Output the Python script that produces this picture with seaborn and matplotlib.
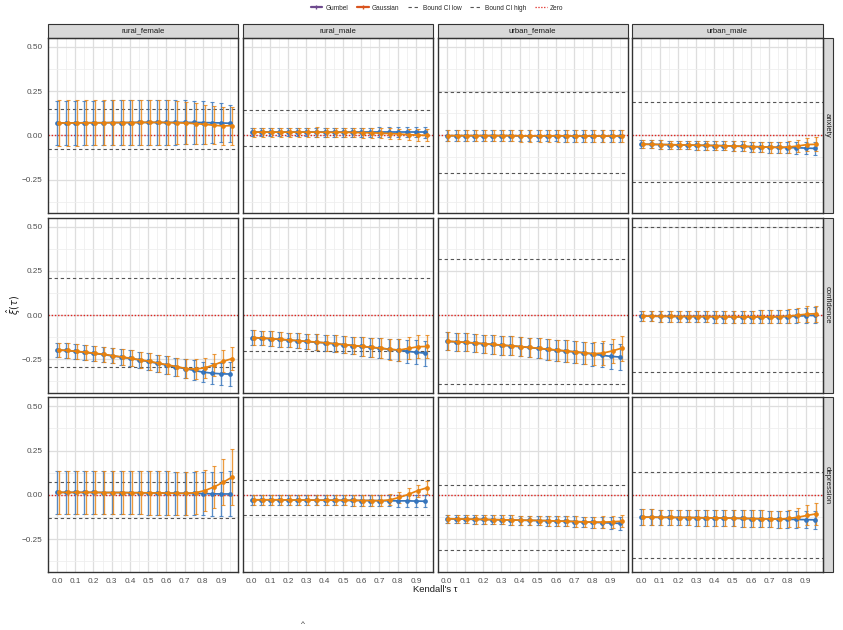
import numpy as np
import pandas as pd
import matplotlib
matplotlib.use('Agg')
import matplotlib.pyplot as plt
from matplotlib.lines import Line2D
from matplotlib.patches import Rectangle
from matplotlib.ticker import MultipleLocator
import seaborn as sns

# ---- data ----
outcomes = ['anxiety', 'confidence', 'depression']
groups = ['rural_female', 'rural_male', 'urban_female', 'urban_male']
taus = [0.00, 0.05, 0.10, 0.15, 0.20, 0.25, 0.30, 0.35, 0.40, 0.45,
        0.50, 0.55, 0.60, 0.65, 0.70, 0.75, 0.80, 0.85, 0.90, 0.95]

gumbel_est = {
    ('anxiety', 'rural_female'): [0.070, 0.070, 0.070, 0.071, 0.071, 0.071, 0.072, 0.072, 0.072, 0.073, 0.073, 0.073, 0.073, 0.073, 0.073, 0.073, 0.072, 0.071, 0.070, 0.068],
    ('anxiety', 'rural_male'): [0.018, 0.018, 0.018, 0.018, 0.018, 0.018, 0.018, 0.018, 0.018, 0.018, 0.018, 0.018, 0.018, 0.018, 0.018, 0.018, 0.018, 0.018, 0.018, 0.018],
    ('anxiety', 'urban_female'): [-0.002, -0.002, -0.002, -0.002, -0.002, -0.002, -0.002, -0.002, -0.003, -0.003, -0.003, -0.003, -0.003, -0.003, -0.004, -0.004, -0.004, -0.004, -0.005, -0.005],
    ('anxiety', 'urban_male'): [-0.050, -0.051, -0.052, -0.053, -0.054, -0.055, -0.056, -0.057, -0.058, -0.059, -0.061, -0.062, -0.064, -0.065, -0.067, -0.068, -0.069, -0.070, -0.072, -0.074],
    ('confidence', 'rural_female'): [-0.197, -0.200, -0.205, -0.210, -0.216, -0.222, -0.230, -0.237, -0.245, -0.253, -0.262, -0.272, -0.282, -0.292, -0.302, -0.312, -0.322, -0.328, -0.332, -0.333],
    ('confidence', 'rural_male'): [-0.127, -0.130, -0.133, -0.137, -0.141, -0.145, -0.149, -0.153, -0.157, -0.162, -0.167, -0.172, -0.177, -0.182, -0.187, -0.192, -0.198, -0.204, -0.210, -0.215],
    ('confidence', 'urban_female'): [-0.148, -0.151, -0.154, -0.158, -0.162, -0.166, -0.170, -0.174, -0.178, -0.183, -0.188, -0.193, -0.198, -0.203, -0.208, -0.213, -0.220, -0.227, -0.233, -0.237],
    ('confidence', 'urban_male'): [-0.006, -0.006, -0.007, -0.007, -0.008, -0.008, -0.008, -0.009, -0.009, -0.009, -0.010, -0.010, -0.010, -0.010, -0.010, -0.009, -0.008, -0.006, -0.003, -0.001],
    ('depression', 'rural_female'): [0.014, 0.014, 0.014, 0.014, 0.014, 0.013, 0.013, 0.013, 0.012, 0.012, 0.011, 0.011, 0.010, 0.009, 0.009, 0.008, 0.007, 0.006, 0.005, 0.005],
    ('depression', 'rural_male'): [-0.028, -0.028, -0.028, -0.028, -0.029, -0.029, -0.029, -0.030, -0.030, -0.030, -0.031, -0.031, -0.032, -0.032, -0.033, -0.033, -0.034, -0.034, -0.035, -0.036],
    ('depression', 'urban_female'): [-0.135, -0.136, -0.137, -0.138, -0.139, -0.140, -0.141, -0.142, -0.143, -0.144, -0.145, -0.146, -0.148, -0.149, -0.151, -0.153, -0.155, -0.157, -0.159, -0.161],
    ('depression', 'urban_male'): [-0.126, -0.126, -0.127, -0.127, -0.128, -0.128, -0.129, -0.130, -0.130, -0.131, -0.132, -0.133, -0.134, -0.135, -0.136, -0.137, -0.138, -0.139, -0.140, -0.141],
}

gaussian_est = {
    ('anxiety', 'rural_female'): [0.070, 0.070, 0.070, 0.071, 0.071, 0.071, 0.072, 0.072, 0.072, 0.073, 0.073, 0.073, 0.072, 0.071, 0.069, 0.066, 0.062, 0.057, 0.053, 0.055],
    ('anxiety', 'rural_male'): [0.018, 0.018, 0.018, 0.018, 0.018, 0.018, 0.018, 0.018, 0.017, 0.017, 0.017, 0.016, 0.015, 0.014, 0.012, 0.010, 0.007, 0.004, 0.001, 0.000],
    ('anxiety', 'urban_female'): [-0.002, -0.002, -0.002, -0.002, -0.002, -0.002, -0.002, -0.002, -0.003, -0.003, -0.003, -0.003, -0.003, -0.003, -0.004, -0.004, -0.004, -0.004, -0.004, -0.004],
    ('anxiety', 'urban_male'): [-0.050, -0.051, -0.052, -0.053, -0.054, -0.055, -0.056, -0.057, -0.058, -0.059, -0.061, -0.062, -0.064, -0.065, -0.067, -0.068, -0.066, -0.060, -0.052, -0.051],
    ('confidence', 'rural_female'): [-0.197, -0.200, -0.205, -0.210, -0.216, -0.222, -0.230, -0.237, -0.245, -0.253, -0.262, -0.272, -0.282, -0.292, -0.302, -0.305, -0.298, -0.282, -0.262, -0.246],
    ('confidence', 'rural_male'): [-0.127, -0.130, -0.133, -0.137, -0.141, -0.145, -0.149, -0.153, -0.157, -0.162, -0.167, -0.172, -0.177, -0.182, -0.187, -0.194, -0.197, -0.188, -0.179, -0.177],
    ('confidence', 'urban_female'): [-0.148, -0.151, -0.154, -0.158, -0.162, -0.166, -0.170, -0.174, -0.178, -0.183, -0.188, -0.193, -0.198, -0.203, -0.208, -0.214, -0.218, -0.214, -0.202, -0.187],
    ('confidence', 'urban_male'): [-0.006, -0.006, -0.007, -0.007, -0.008, -0.008, -0.008, -0.009, -0.009, -0.009, -0.010, -0.010, -0.010, -0.010, -0.010, -0.009, -0.006, 0.000, 0.006, 0.008],
    ('depression', 'rural_female'): [0.014, 0.014, 0.014, 0.014, 0.014, 0.013, 0.013, 0.013, 0.012, 0.012, 0.011, 0.011, 0.010, 0.009, 0.009, 0.012, 0.024, 0.044, 0.070, 0.100],
    ('depression', 'rural_male'): [-0.028, -0.028, -0.028, -0.028, -0.029, -0.029, -0.029, -0.030, -0.030, -0.030, -0.031, -0.031, -0.032, -0.032, -0.033, -0.028, -0.014, 0.003, 0.024, 0.040],
    ('depression', 'urban_female'): [-0.135, -0.136, -0.137, -0.138, -0.139, -0.140, -0.141, -0.142, -0.143, -0.144, -0.145, -0.146, -0.148, -0.149, -0.151, -0.153, -0.154, -0.154, -0.152, -0.149],
    ('depression', 'urban_male'): [-0.126, -0.126, -0.127, -0.127, -0.128, -0.128, -0.129, -0.130, -0.130, -0.131, -0.132, -0.133, -0.134, -0.135, -0.136, -0.137, -0.133, -0.126, -0.116, -0.107],
}

# half-widths of the CI error bars
gumbel_hw = {
    ('anxiety', 'rural_female'): [0.125, 0.125, 0.125, 0.125, 0.125, 0.125, 0.125, 0.125, 0.125, 0.126, 0.126, 0.126, 0.126, 0.125, 0.124, 0.122, 0.120, 0.116, 0.110, 0.105],
    ('anxiety', 'rural_male'): [0.024, 0.024, 0.024, 0.024, 0.024, 0.024, 0.024, 0.025, 0.025, 0.025, 0.025, 0.026, 0.026, 0.026, 0.027, 0.027, 0.028, 0.029, 0.030, 0.031],
    ('anxiety', 'urban_female'): [0.030, 0.030, 0.030, 0.030, 0.030, 0.030, 0.030, 0.030, 0.031, 0.031, 0.031, 0.031, 0.031, 0.032, 0.032, 0.032, 0.033, 0.033, 0.034, 0.035],
    ('anxiety', 'urban_male'): [0.022, 0.022, 0.023, 0.023, 0.024, 0.024, 0.025, 0.025, 0.026, 0.026, 0.027, 0.028, 0.029, 0.030, 0.031, 0.032, 0.033, 0.034, 0.036, 0.038],
    ('confidence', 'rural_female'): [0.040, 0.040, 0.041, 0.041, 0.042, 0.042, 0.043, 0.044, 0.045, 0.046, 0.047, 0.048, 0.050, 0.052, 0.054, 0.056, 0.058, 0.060, 0.063, 0.066],
    ('confidence', 'rural_male'): [0.040, 0.040, 0.041, 0.041, 0.042, 0.043, 0.044, 0.045, 0.046, 0.047, 0.048, 0.050, 0.052, 0.054, 0.056, 0.058, 0.061, 0.064, 0.067, 0.070],
    ('confidence', 'urban_female'): [0.050, 0.050, 0.051, 0.051, 0.052, 0.052, 0.053, 0.054, 0.055, 0.056, 0.057, 0.058, 0.059, 0.060, 0.062, 0.063, 0.065, 0.067, 0.069, 0.071],
    ('confidence', 'urban_male'): [0.030, 0.030, 0.030, 0.031, 0.031, 0.031, 0.032, 0.032, 0.033, 0.033, 0.034, 0.034, 0.035, 0.036, 0.037, 0.038, 0.039, 0.041, 0.043, 0.045],
    ('depression', 'rural_female'): [0.122, 0.122, 0.122, 0.122, 0.122, 0.122, 0.122, 0.122, 0.122, 0.122, 0.122, 0.122, 0.122, 0.122, 0.122, 0.122, 0.122, 0.123, 0.125, 0.127],
    ('depression', 'rural_male'): [0.028, 0.028, 0.028, 0.028, 0.028, 0.028, 0.028, 0.029, 0.029, 0.029, 0.029, 0.030, 0.030, 0.030, 0.031, 0.031, 0.032, 0.033, 0.034, 0.035],
    ('depression', 'urban_female'): [0.024, 0.024, 0.024, 0.025, 0.025, 0.025, 0.026, 0.026, 0.026, 0.027, 0.027, 0.028, 0.028, 0.029, 0.030, 0.030, 0.031, 0.032, 0.033, 0.035],
    ('depression', 'urban_male'): [0.044, 0.044, 0.044, 0.044, 0.044, 0.045, 0.045, 0.045, 0.045, 0.045, 0.046, 0.046, 0.046, 0.047, 0.047, 0.048, 0.048, 0.049, 0.050, 0.052],
}

gaussian_hw = {
    ('anxiety', 'rural_female'): [0.128, 0.128, 0.128, 0.128, 0.128, 0.128, 0.128, 0.128, 0.128, 0.128, 0.128, 0.127, 0.125, 0.122, 0.118, 0.115, 0.110, 0.106, 0.105, 0.107],
    ('anxiety', 'rural_male'): [0.026, 0.026, 0.026, 0.026, 0.026, 0.026, 0.026, 0.027, 0.027, 0.027, 0.027, 0.028, 0.028, 0.028, 0.029, 0.029, 0.030, 0.031, 0.032, 0.034],
    ('anxiety', 'urban_female'): [0.031, 0.031, 0.031, 0.031, 0.031, 0.031, 0.031, 0.031, 0.032, 0.032, 0.032, 0.032, 0.032, 0.033, 0.033, 0.033, 0.034, 0.034, 0.035, 0.036],
    ('anxiety', 'urban_male'): [0.022, 0.022, 0.023, 0.023, 0.024, 0.024, 0.025, 0.025, 0.026, 0.026, 0.027, 0.028, 0.029, 0.030, 0.031, 0.032, 0.034, 0.036, 0.038, 0.040],
    ('confidence', 'rural_female'): [0.040, 0.040, 0.041, 0.041, 0.042, 0.042, 0.043, 0.044, 0.045, 0.046, 0.047, 0.048, 0.050, 0.052, 0.054, 0.056, 0.058, 0.060, 0.062, 0.065],
    ('confidence', 'rural_male'): [0.040, 0.040, 0.041, 0.041, 0.042, 0.043, 0.044, 0.045, 0.046, 0.047, 0.048, 0.050, 0.052, 0.054, 0.056, 0.058, 0.060, 0.062, 0.064, 0.066],
    ('confidence', 'urban_female'): [0.050, 0.050, 0.051, 0.051, 0.052, 0.052, 0.053, 0.054, 0.055, 0.056, 0.057, 0.058, 0.059, 0.060, 0.062, 0.063, 0.064, 0.066, 0.068, 0.070],
    ('confidence', 'urban_male'): [0.030, 0.030, 0.030, 0.031, 0.031, 0.031, 0.032, 0.032, 0.033, 0.033, 0.034, 0.034, 0.035, 0.036, 0.037, 0.038, 0.039, 0.041, 0.043, 0.046],
    ('depression', 'rural_female'): [0.122, 0.122, 0.122, 0.122, 0.122, 0.122, 0.122, 0.122, 0.122, 0.122, 0.122, 0.122, 0.122, 0.122, 0.122, 0.120, 0.118, 0.120, 0.130, 0.160],
    ('depression', 'rural_male'): [0.028, 0.028, 0.028, 0.028, 0.028, 0.028, 0.028, 0.029, 0.029, 0.029, 0.029, 0.030, 0.030, 0.030, 0.031, 0.031, 0.032, 0.033, 0.034, 0.036],
    ('depression', 'urban_female'): [0.024, 0.024, 0.024, 0.025, 0.025, 0.025, 0.026, 0.026, 0.026, 0.027, 0.027, 0.028, 0.028, 0.029, 0.030, 0.030, 0.031, 0.032, 0.033, 0.035],
    ('depression', 'urban_male'): [0.044, 0.044, 0.044, 0.044, 0.044, 0.045, 0.045, 0.045, 0.045, 0.045, 0.046, 0.046, 0.046, 0.047, 0.047, 0.048, 0.050, 0.053, 0.057, 0.062],
}

bound_high = {
    ('anxiety', 'rural_female'): 0.150, ('anxiety', 'rural_male'): 0.144,
    ('anxiety', 'urban_female'): 0.244, ('anxiety', 'urban_male'): 0.188,
    ('confidence', 'rural_female'): 0.207, ('confidence', 'rural_male'): 0.210,
    ('confidence', 'urban_female'): 0.316, ('confidence', 'urban_male'): 0.497,
    ('depression', 'rural_female'): 0.075, ('depression', 'rural_male'): 0.086,
    ('depression', 'urban_female'): 0.056, ('depression', 'urban_male'): 0.130,
}
bound_low = {
    ('anxiety', 'rural_female'): -0.080, ('anxiety', 'rural_male'): -0.059,
    ('anxiety', 'urban_female'): -0.212, ('anxiety', 'urban_male'): -0.265,
    ('confidence', 'rural_female'): -0.294, ('confidence', 'rural_male'): -0.205,
    ('confidence', 'urban_female'): -0.390, ('confidence', 'urban_male'): -0.322,
    ('depression', 'rural_female'): -0.128, ('depression', 'rural_male'): -0.111,
    ('depression', 'urban_female'): -0.310, ('depression', 'urban_male'): -0.354,
}

colors = {'Gumbel': '#3574BC', 'Gaussian': '#E8820F'}
dodge = {'Gumbel': 0.0, 'Gaussian': 0.01}

# long table for the facet grid
records = []
for o in outcomes:
    for grp in groups:
        for method, est, hw in [('Gumbel', gumbel_est, gumbel_hw), ('Gaussian', gaussian_est, gaussian_hw)]:
            for i, t in enumerate(taus):
                records.append(dict(outcome=o, group=grp, method=method, tau=t,
                                    xpos=t + dodge[method], est=est[(o, grp)][i],
                                    hw=hw[(o, grp)][i], low=bound_low[(o, grp)],
                                    high=bound_high[(o, grp)]))
df = pd.DataFrame(records)

sns.set_style('white')
plt.rcParams['font.family'] = ['Liberation Sans', 'DejaVu Sans']

dash_style = (0, (3, 2.5))
dot_style = (0, (1, 1.3))
zero_color = '#E0241F'


def draw_panel(data, **kws):
    ax = plt.gca()
    ax.axhline(data['high'].iloc[0], color='#555555', lw=0.8, ls=dash_style, zorder=1)
    ax.axhline(data['low'].iloc[0], color='#555555', lw=0.8, ls=dash_style, zorder=1)
    ax.axhline(0, color=zero_color, lw=1.0, ls=dot_style, zorder=1)
    for m in ['Gumbel', 'Gaussian']:
        sub = data[data['method'] == m]
        ax.errorbar(sub['xpos'], sub['est'], yerr=sub['hw'], fmt='none',
                    ecolor=colors[m], elinewidth=0.95, capsize=1.3, capthick=0.8,
                    alpha=0.8, zorder=2)
    sns.lineplot(data=data, x='xpos', y='est', hue='method',
                 hue_order=['Gumbel', 'Gaussian'], palette=colors, estimator=None,
                 marker='o', markersize=3.4, markeredgewidth=0, linewidth=1.25,
                 legend=False, ax=ax, zorder=3)


g = sns.FacetGrid(df, row='outcome', col='group', row_order=outcomes, col_order=groups,
                  sharex=True, sharey=True, despine=False, height=2, aspect=1.1)
g.map_dataframe(draw_panel)
g.set_titles('')

fig = g.figure
fig.set_size_inches(8.43, 6.3)
fig.subplots_adjust(left=48 / 843, right=822.5 / 843, top=1 - 37.8 / 630,
                    bottom=1 - 572.3 / 630, wspace=4.8 / 190, hspace=4.8 / 175)

nrow, ncol = g.axes.shape
for r in range(nrow):
    for c in range(ncol):
        ax = g.axes[r, c]
        ax.set_xlabel('')
        ax.set_ylabel('')
        ax.set_xlim(-0.049, 0.993)
        ax.set_ylim(-0.4375, 0.551)
        ax.set_xticks(taus[::2])
        ax.set_xticklabels([f'{t:.1f}' for t in taus[::2]])
        ax.set_yticks([-0.25, 0.0, 0.25, 0.5])
        ax.set_yticklabels(['\u22120.25', '0.00', '0.25', '0.50'])
        ax.xaxis.set_minor_locator(MultipleLocator(0.05))
        ax.yaxis.set_minor_locator(MultipleLocator(0.125))
        ax.set_axisbelow(True)
        ax.grid(which='major', color='#DEDEDE', lw=0.9)
        ax.grid(which='minor', color='#EEEEEE', lw=0.55)
        ax.tick_params(which='minor', length=0)
        ax.tick_params(which='major', length=2.5, width=0.6, color='#333333',
                       labelsize=5.9, labelcolor='#4D4D4D', pad=1.5)
        if c > 0:
            ax.tick_params(axis='y', length=0, labelleft=False)
        if r < nrow - 1:
            ax.tick_params(axis='x', length=0, labelbottom=False)
        for sp in ax.spines.values():
            sp.set_color('#333333')
            sp.set_linewidth(1.0)
        if r == 0:
            ax.add_patch(Rectangle((0, 1), 1, 14 / 175, transform=ax.transAxes,
                                   clip_on=False, fc='#D9D9D9', ec='#333333', lw=0.8))
            ax.text(0.5, 1 + 7 / 175, groups[c], transform=ax.transAxes,
                    ha='center', va='center', fontsize=5.6, color='#1A1A1A')
        if c == ncol - 1:
            ax.add_patch(Rectangle((1, 0), 10 / 190, 1, transform=ax.transAxes,
                                   clip_on=False, fc='#D9D9D9', ec='#333333', lw=0.8))
            ax.text(1 + 5 / 190, 0.5, outcomes[r], transform=ax.transAxes,
                    ha='center', va='center', rotation=-90, fontsize=5.6,
                    color='#1A1A1A')

# axis titles
fig.text(435 / 843, 1 - 589 / 630, "Kendall's \u03c4", ha='center', va='center',
         fontsize=6.8, color='#1A1A1A')
fig.text(14 / 843, 1 - 305 / 630, r'$\hat{\xi}(\tau)$', ha='center', va='center',
         rotation=90, fontsize=7, color='#1A1A1A')
fig.text(303 / 843, 1 - 625 / 630, '^', ha='center', va='center', fontsize=6,
         color='#333333')

# legend
handles = [
    Line2D([0], [0], color='#6E4A8E', lw=1.6, marker='|', markersize=3),
    Line2D([0], [0], color='#D9541E', lw=1.6, marker='|', markersize=3),
    Line2D([0], [0], color='#555555', lw=0.8, ls=dash_style),
    Line2D([0], [0], color='#555555', lw=0.8, ls=dash_style),
    Line2D([0], [0], color=zero_color, lw=0.9, ls=dot_style),
]
labels = ['Gumbel', 'Gaussian', 'Bound CI low', 'Bound CI high', 'Zero']
fig.legend(handles, labels, loc='center', bbox_to_anchor=(437 / 843, 1 - 8 / 630),
           ncol=5, frameon=False, fontsize=4.7, handlelength=1.8,
           columnspacing=1.3, handletextpad=0.5)

fig.savefig('out.png', dpi=100)
